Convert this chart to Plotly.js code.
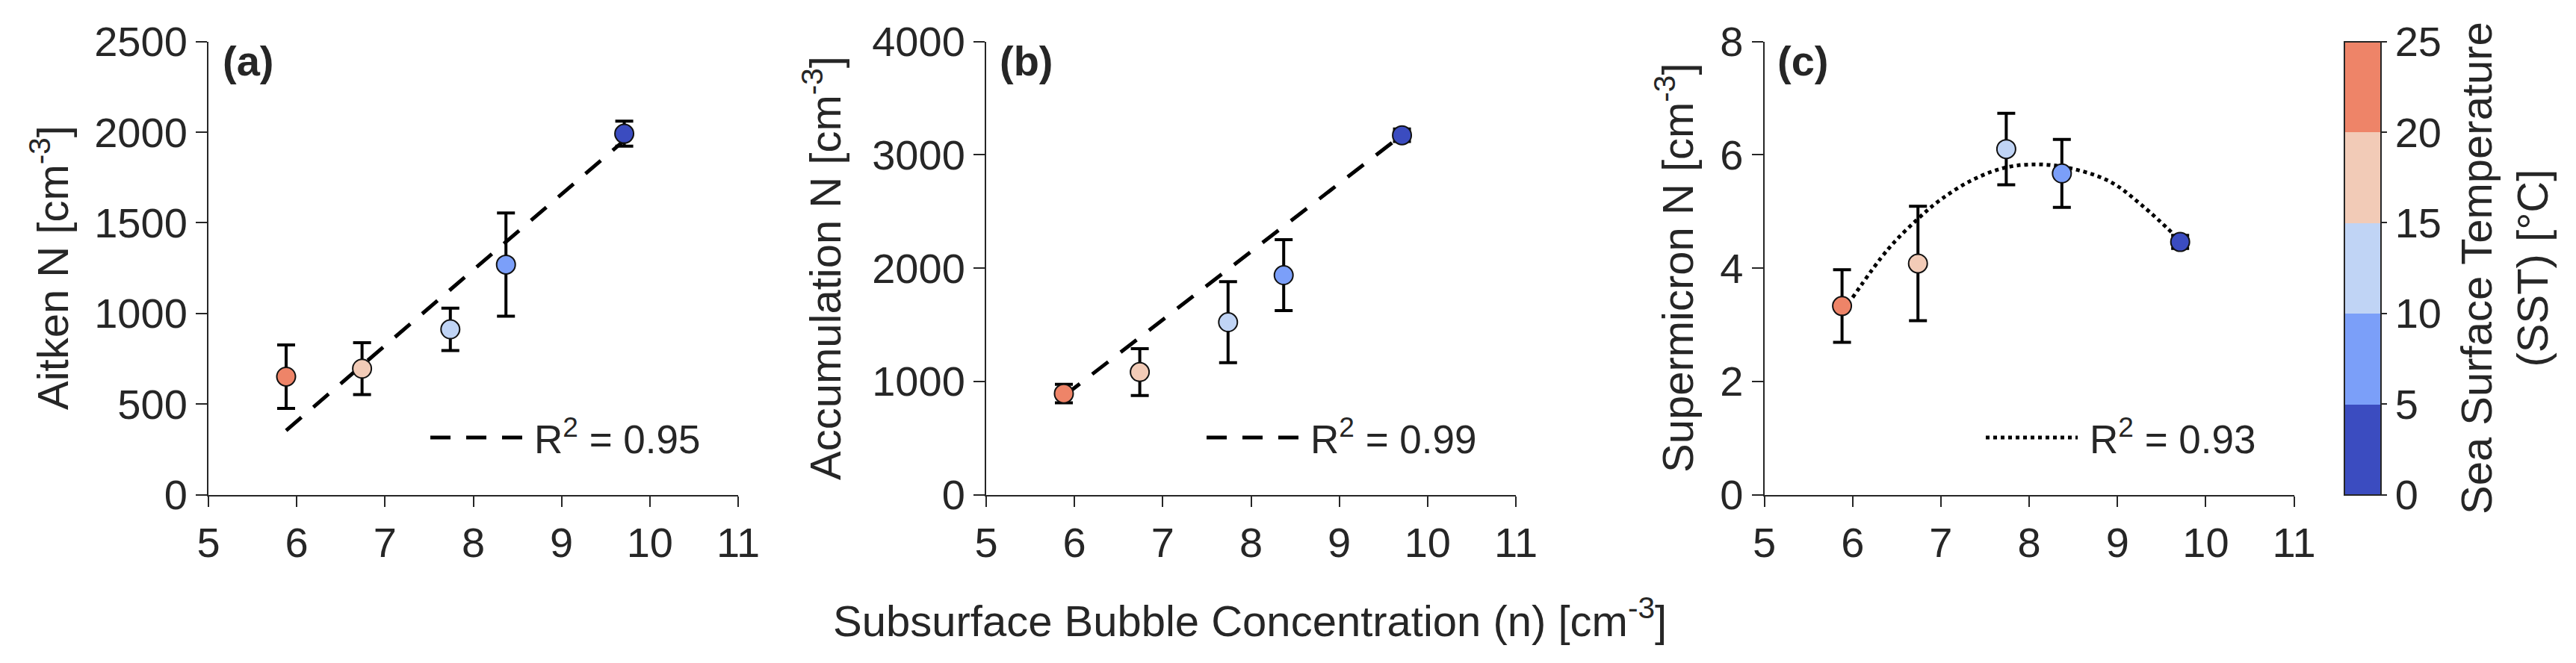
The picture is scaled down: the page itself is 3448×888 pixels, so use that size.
<!DOCTYPE html>
<html>
<head>
<meta charset="utf-8">
<script src="https://cdn.plot.ly/plotly-3.0.1.min.js"></script>
<style>
  body { margin: 0; background: #fff; }
  #chart { width: 3448px; height: 888px; }
</style>
</head>
<body>
<div id="chart"></div>
<script>
// Mean subsurface bubble concentration per cruise [cm-3]
const bubbleN = [5.88, 6.74, 7.74, 8.37, 9.71];
// Sea surface temperature per cruise [°C] (only the colour bin is readable)
const sst = [22, 17, 12, 7, 2];

// Aerosol number concentrations with error bars
const aitken = [651, 695, 912, 1269, 1991];
const aitkenErr = [175, 143, 117, 285, 69];
const accum = [892, 1082, 1522, 1937, 3172];
const accumErr = [82, 207, 358, 313, 55];
const supermicron = [3.33, 4.08, 6.10, 5.67, 4.46];
const supermicronErr = [0.64, 1.01, 0.63, 0.60, 0.115];

// Fit lines
const fitAX = [5.88, 9.72];
const fitAY = [354, 1958];
const fitBX = [5.88, 9.72];
const fitBY = [870, 3180];
const fitCX = [6.0, 6.4, 6.74, 7.0, 7.35, 7.72, 8.07, 8.44, 8.91, 9.29, 9.66];
const fitCY = [3.48, 4.33, 4.87, 5.21, 5.55, 5.77, 5.83, 5.77, 5.53, 5.09, 4.56];

const r2Labels = ["R<sup>2</sup> = 0.95", "R<sup>2</sup> = 0.99", "R<sup>2</sup> = 0.93"];
const panelLabels = ["(a)", "(b)", "(c)"];
const yTitles = [
  "Aitken N [cm<sup>-3</sup>]",
  "Accumulation N [cm<sup>-3</sup>]",
  "Supermicron N [cm<sup>-3</sup>]",
];
const xTitle = "Subsurface Bubble Concentration (n) [cm<sup>-3</sup>]";
const cbTitle = "Sea Surface Temperature<br>(SST) [°C]";

const sstTicks = [0, 5, 10, 15, 20, 25];
const sstColors = ["#3b4cc0", "#7b9ff9", "#c0d4f5", "#f2cbb7", "#ee8468"];

/*
  layout helpers (pixel positions measured from the 3448x888 reference)
*/
const W = 3448;
const H = 888;
const FONT = "Liberation Sans, Arial, sans-serif";
const INK = "#262626";
const TICK_SIZE = 56;
const TITLE_SIZE = 58;

// stepped colour scale, one flat band per 5 °C
const stepScale = [];
sstColors.forEach(function (c, i) {
  stepScale.push([i / sstColors.length, c]);
  stepScale.push([(i + 1) / sstColors.length, c]);
});

const px = (v) => v / W;
const py = (v) => 1 - v / H;

const plotTop = py(55.5);
const plotBottom = py(662.5);
const panelLeft = [279, 1320, 2361.6];
const panelWidth = 709;

function xAxis(i) {
  return {
    domain: [px(panelLeft[i]), px(panelLeft[i] + panelWidth)],
    anchor: i === 0 ? "y" : "y" + (i + 1),
    range: [5, 11],
    tick0: 5,
    dtick: 1,
    showline: true,
    linewidth: 2,
    linecolor: INK,
    ticks: "outside",
    ticklen: 14,
    tickwidth: 2,
    tickcolor: INK,
    showgrid: false,
    zeroline: false,
    tickfont: { family: FONT, size: TICK_SIZE, color: INK },
  };
}

function yAxis(i, max, step) {
  return {
    domain: [plotBottom, plotTop],
    anchor: i === 0 ? "x" : "x" + (i + 1),
    range: [0, max],
    tick0: 0,
    dtick: step,
    showline: true,
    linewidth: 2,
    linecolor: INK,
    ticks: "outside",
    ticklen: 15,
    tickwidth: 2,
    tickcolor: INK,
    showgrid: false,
    zeroline: false,
    tickfont: { family: FONT, size: TICK_SIZE, color: INK },
  };
}

function fitTrace(i, xs, ys, dash) {
  return {
    x: xs,
    y: ys,
    xaxis: i === 0 ? "x" : "x" + (i + 1),
    yaxis: i === 0 ? "y" : "y" + (i + 1),
    mode: "lines",
    line: { color: "#000", width: 5, dash: dash, shape: "spline" },
    hoverinfo: "skip",
    showlegend: false,
  };
}

function pointTrace(i, ys, errs, withBar) {
  var marker = {
    size: 25,
    color: sst,
    cmin: 0,
    cmax: 25,
    colorscale: stepScale,
    line: { color: "#111", width: 2 },
    showscale: withBar,
  };
  if (withBar) {
    marker.colorbar = {
      x: px(3137.6),
      xanchor: "left",
      xpad: 0,
      y: plotBottom,
      yanchor: "bottom",
      ypad: 0,
      len: plotTop - plotBottom,
      lenmode: "fraction",
      thickness: 49,
      thicknessmode: "pixels",
      outlinewidth: 2,
      outlinecolor: INK,
      ticks: "outside",
      ticklen: 7,
      tickwidth: 2,
      tickcolor: INK,
      tickvals: sstTicks,
      tickfont: { family: FONT, size: TICK_SIZE, color: INK },
    };
  }
  return {
    x: bubbleN,
    y: ys,
    xaxis: i === 0 ? "x" : "x" + (i + 1),
    yaxis: i === 0 ? "y" : "y" + (i + 1),
    mode: "markers",
    marker: marker,
    error_y: {
      type: "data",
      array: errs,
      visible: true,
      color: "#000",
      thickness: 4,
      width: 12,
    },
    showlegend: false,
  };
}

var data = [
  fitTrace(0, fitAX, fitAY, "27px,21px"),
  fitTrace(1, fitBX, fitBY, "27px,21px"),
  fitTrace(2, fitCX, fitCY, "5px,5px"),
  pointTrace(0, aitken, aitkenErr, false),
  pointTrace(1, accum, accumErr, false),
  pointTrace(2, supermicron, supermicronErr, true),
];

// legend keys for the fits, drawn as short lines beside the R² text
var keyStart = [576, 1615, 2658];
var keyDash = ["27px,21px", "27px,21px", "5px,5px"];
var shapes = keyStart.map(function (x0, i) {
  return {
    type: "line",
    xref: "paper",
    yref: "paper",
    x0: px(x0),
    x1: px(x0 + 123),
    y0: py(586),
    y1: py(586),
    line: { color: "#000", width: 5, dash: keyDash[i] },
  };
});

var annotations = [];
var labelLeft = [296, 1336, 2377];
var yTitleX = [66, 1100, 2241];
for (let i = 0; i < 3; i++) {
  annotations.push({
    text: "<b>" + panelLabels[i] + "</b>",
    xref: "paper", yref: "paper",
    x: px(labelLeft[i]), y: py(48),
    xanchor: "left", yanchor: "top",
    showarrow: false,
    font: { family: FONT, size: 56, color: INK },
  });
  annotations.push({
    text: r2Labels[i],
    xref: "paper", yref: "paper",
    x: px(keyStart[i] + 137), y: py(584),
    xanchor: "left", yanchor: "middle",
    showarrow: false,
    font: { family: FONT, size: 53, color: INK },
  });
  annotations.push({
    text: yTitles[i],
    xref: "paper", yref: "paper",
    x: px(yTitleX[i]), y: py(359),
    xanchor: "center", yanchor: "middle",
    textangle: -90,
    showarrow: false,
    font: { family: FONT, size: TITLE_SIZE, color: INK },
  });
}
annotations.push({
  text: xTitle,
  xref: "paper", yref: "paper",
  x: px(1673), y: py(827),
  xanchor: "center", yanchor: "middle",
  showarrow: false,
  font: { family: FONT, size: TITLE_SIZE, color: INK },
});
annotations.push({
  text: cbTitle,
  xref: "paper", yref: "paper",
  x: px(3352), y: py(359),
  xanchor: "center", yanchor: "middle",
  textangle: -90,
  showarrow: false,
  font: { family: FONT, size: TITLE_SIZE, color: INK },
});

var layout = {
  width: W,
  height: H,
  margin: { t: 0, b: 0, l: 0, r: 0, pad: 0 },
  paper_bgcolor: "#ffffff",
  plot_bgcolor: "#ffffff",
  font: { family: FONT, color: INK },
  xaxis: xAxis(0),
  xaxis2: xAxis(1),
  xaxis3: xAxis(2),
  yaxis: yAxis(0, 2500, 500),
  yaxis2: yAxis(1, 4000, 1000),
  yaxis3: yAxis(2, 8, 2),
  shapes: shapes,
  annotations: annotations,
  showlegend: false,
};

Plotly.newPlot("chart", data, layout, { displayModeBar: false });
</script>
</body>
</html>
